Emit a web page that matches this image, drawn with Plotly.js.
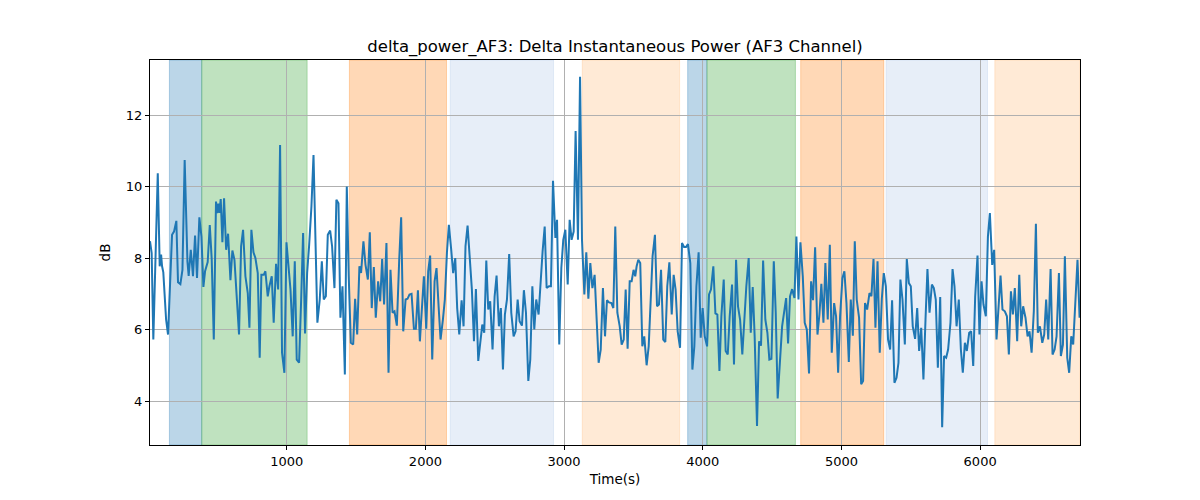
<!DOCTYPE html>
<html>
<head>
<meta charset="utf-8">
<script src="https://cdn.plot.ly/plotly-3.0.1.min.js"></script>
<style>
html,body{margin:0;padding:0;background:#fff;}
#chart{width:1200px;height:500px;}
</style>
</head>
<body>
<div id="chart"></div>
<script>
// time (s) and delta power (dB)
const timeS = [
  14,26,38,70,84,94,101,110,130,144,173,187,204,216,233,248,264,284,293,308,324,339,353,370,385,399,411,430,445,459,
  474,490,498,507,514,524,536,548,563,577,594,608,623,640,656,671,685,702,719,731,745,760,774,791,805,817,834,846,863,
  875,892,906,923,938,952,966,983,998,1012,1027,1043,1058,1072,1089,1104,1118,1132,1147,1161,1178,1193,1207,1221,1238,
  1253,1267,1282,1296,1313,1327,1344,1358,1373,1387,1402,1419,1433,1447,1462,1479,1493,1508,1524,1536,1553,1568,1585,
  1599,1613,1628,1642,1659,1674,1688,1702,1719,1734,
  1748,1763,1777,1794,1811,1825,1840,1857,1871,1885,1900,1917,1931,1946,1960,1974,1989,2006,2020,2034,2049,2066,2080,
  2095,2109,2126,2140,2155,2169,2186,2200,2215,2229,2244,2261,2275,2289,2304,2321,2335,2350,2364,2381,2395,2410,2424,
  2439,2453,2467,2484,2499,2513,2530,2544,2559,2573,2588,2604,
  2619,2636,2650,2665,2679,2696,2710,2725,2742,2756,2771,2785,2799,2816,2831,2845,2860,2874,2891,2905,2920,2937,2949,
  2965,2980,2994,3009,3026,3040,3054,3069,3083,3100,3115,3129,3146,3160,3175,3189,3204,3220,3235,3249,3264,3280,3295,
  3309,3324,3341,3355,3369,3384,3401,3415,3430,3444,3458,3473,
  3487,3501,3513,3523,3535,3549,3564,3578,3595,3610,3624,3638,3655,3670,3684,3699,3715,3730,3744,3759,3776,3790,3804,
  3819,3836,3850,3865,3879,3893,3910,3925,3939,3954,3970,3985,3999,4014,4031,4045,4059,4076,4091,4105,4120,4134,4151,
  4165,4180,4194,4211,4225,4240,4254,4269,4285,4300,4314,4331,
  4346,4360,4374,4391,4406,4420,4435,4451,4466,4480,4495,4512,4526,4540,4555,4572,4586,4601,4615,4629,4644,4661,4675,
  4690,4704,4721,4735,4750,4766,4781,4795,4810,4827,4841,4855,4870,4884,4901,4916,4930,4947,4961,4976,4990,5007,5021,
  5036,5053,5067,5082,5096,5110,5127,5142,5156,5170,5185,5202,
  5216,5231,5245,5260,5276,5291,5305,5320,5336,5351,5365,5382,5397,5411,5425,5440,5457,5471,5486,5500,5514,5531,5546,
  5560,5575,5591,5606,5620,5635,5652,5666,5680,5695,5712,5726,5740,5755,5769,5786,5801,5815,5830,5846,5861,5875,5890,
  5904,5921,5935,5950,5964,5981,5995,6010,6024,6041,6056,6070,
  6087,6101,6118,6133,6147,6161,6178,6193,6207,6222,6236,6250,6267,6282,6296,6310,6327,6342,6356,6371,6387,6402,6416,
  6431,6448,6462,6476,6491,6508,6522,6537,6551,6568,6582,6597,6611,6628,6642,6657,6671,6688,6702,6717
];
const deltaDb = [
  8.47,8.14,5.72,10.37,7.77,8.1,7.77,7.6,6.28,5.86,8.65,8.74,9.04,7.32,7.27,7.67,10.74,7.9,7.5,8.23,7.49,8.63,7.44,9.14,8.6,7.19,7.63,7.89,8.92,7.97,
  5.72,9.58,9.26,9.52,9.26,9.65,8.44,9.67,8.23,8.68,7.38,8.21,7.95,6.84,5.86,8.33,8.79,7.49,7.02,6.05,8.79,8.16,8.0,7.58,5.21,7.53,7.53,7.63,6.93,
  7.21,7.49,6.19,7.84,7.12,11.16,5.35,4.79,8.44,7.67,7.12,5.81,7.91,5.16,5.07,6.84,8.70,5.89,7.58,8.33,9.44,10.88,8.88,6.19,6.84,
  7.91,6.84,6.93,8.65,8.77,8.33,7.16,9.63,9.53,6.33,7.21,4.74,10.0,7.49,5.63,5.58,6.86,5.86,7.77,7.58,8.47,7.81,7.40,
  8.72,6.60,7.75,6.33,7.35,6.79,7.97,6.70,8.42,4.79,
  7.67,6.47,6.51,6.11,7.95,9.14,5.95,6.84,6.86,6.98,7.0,6.02,6.02,7.10,5.67,6.70,7.49,6.02,7.63,8.07,5.16,7.35,7.72,
  6.65,5.72,6.28,6.84,8.14,8.93,8.23,7.58,8.0,6.60,5.86,6.82,6.09,8.33,8.91,7.95,7.12,5.67,7.13,5.12,5.63,6.14,5.91,
  7.93,6.56,6.79,5.44,6.93,7.51,6.09,6.60,4.88,6.42,6.84,8.11,
  6.47,5.81,5.95,6.84,6.23,6.11,7.10,6.47,4.56,5.16,7.21,6.0,6.84,6.42,7.40,8.19,8.88,7.16,7.21,7.21,10.16,8.56,9.07,
  5.58,7.72,8.51,8.79,7.26,9.07,8.51,8.74,11.55,8.51,13.07,8.51,6.98,8.16,6.86,7.86,7.16,7.53,6.09,5.07,5.44,7.16,5.81,
  6.82,6.76,6.74,6.60,8.88,6.47,6.09,5.58,5.72,7.12,5.46,7.35,
  7.35,7.67,7.49,7.77,7.95,7.86,5.53,5.81,5.0,5.53,6.70,8.05,8.65,6.65,6.70,7.67,5.72,5.65,7.21,7.88,6.42,7.53,7.12,
  5.95,5.49,8.42,8.31,8.31,8.39,7.86,4.88,5.53,7.21,8.16,5.77,6.60,5.81,5.53,6.98,7.12,7.77,6.45,6.42,4.84,6.37,7.40,
  5.40,5.30,6.37,7.26,5.02,7.95,6.65,6.28,5.30,6.47,7.21,8.0,
  5.91,7.19,5.81,3.30,5.67,5.55,7.93,6.28,5.91,5.16,5.18,7.91,6.47,4.07,5.02,6.09,6.47,6.88,5.61,6.93,7.13,6.88,8.60,
  6.84,8.44,7.49,6.19,6.0,4.77,7.35,6.82,8.30,5.86,6.42,7.28,6.19,7.86,6.28,8.37,5.35,6.74,6.37,4.79,6.37,7.44,7.63,
  6.74,5.09,6.84,5.83,8.47,6.84,6.33,4.47,4.56,6.74,6.56,7.02,
  6.93,7.97,6.05,7.91,5.35,6.86,7.58,7.21,5.72,5.44,6.82,4.51,4.65,5.07,7.40,6.84,5.58,7.97,7.30,7.21,6.09,5.74,6.60,
  5.40,6.05,4.60,6.28,7.69,6.47,7.26,7.16,6.84,4.93,6.91,3.27,5.26,5.21,5.44,6.19,7.69,7.21,6.09,6.84,5.44,4.79,5.63,
  5.40,5.91,5.95,4.98,6.91,8.07,5.86,7.35,6.70,6.37,8.60,9.26,
  7.81,8.23,5.72,6.74,7.51,6.56,6.51,6.37,5.30,7.07,6.42,7.16,5.67,7.53,6.09,6.65,6.33,5.81,5.95,5.35,6.51,8.96,5.91,
  6.09,5.63,5.86,6.84,5.72,7.69,5.30,5.44,5.81,7.58,5.26,5.58,8.05,5.21,4.79,5.81,5.58,6.76,7.95,6.33
];

// shaded segments (s) and which kind each one is
const segStart = [154, 387, 1452, 2179, 3131, 3891, 4030, 4706, 5322, 6106];
const segEnd   = [387, 1147, 2152, 2924, 3833, 4030, 4668, 5305, 6053, 6720];
const segKind  = [0, 1, 2, 3, 4, 0, 1, 2, 3, 4];

const fills = [
  'rgba(31,119,180,0.3)',
  'rgba(44,160,44,0.3)',
  'rgba(255,127,14,0.3)',
  'rgba(174,199,232,0.3)',
  'rgba(255,187,120,0.3)'
];

const shapes = segStart.map((s,i)=>({
  type:'rect', xref:'x', yref:'paper', x0:s, x1:segEnd[i], y0:0, y1:1,
  fillcolor:fills[segKind[i]], line:{color:fills[segKind[i]], width:1}, layer:'below'
}));

const trace = {
  type:'scatter', mode:'lines', x:timeS, y:deltaDb,
  line:{color:'#1f77b4', width:2}, hoverinfo:'x+y'
};

const axisBase = {
  showline:true, mirror:true, linecolor:'#000', linewidth:1,
  ticks:'outside', ticklen:4, tickcolor:'#000',
  showgrid:true, gridcolor:'#b0b0b0', gridwidth:1, zeroline:false,
  tickfont:{size:13, color:'#000'}, automargin:false
};

const layout = {
  width:1200, height:500,
  margin:{l:150, r:120, t:60, b:55},
  paper_bgcolor:'#fff', plot_bgcolor:'#fff',
  font:{family:'DejaVu Sans, sans-serif', color:'#000'},
  showlegend:false,
  title:{text:'delta_power_AF3: Delta Instantaneous Power (AF3 Channel)', font:{size:16.5, color:'#000'},
         xref:'paper', x:0.5, xanchor:'center', yref:'container', y:0.908, yanchor:'middle'},
  xaxis:Object.assign({}, axisBase, {range:[14, 6720], tickvals:[1000,2000,3000,4000,5000,6000],
         title:{text:'Time(s)', font:{size:13.5}, standoff:6}}),
  yaxis:Object.assign({}, axisBase, {range:[2.77, 13.54], tickvals:[4,6,8,10,12],
         title:{text:'dB', font:{size:13.5}, standoff:12}}),
  shapes:shapes
};

Plotly.newPlot('chart', [trace], layout, {displayModeBar:false, staticPlot:true});
</script>
</body>
</html>
